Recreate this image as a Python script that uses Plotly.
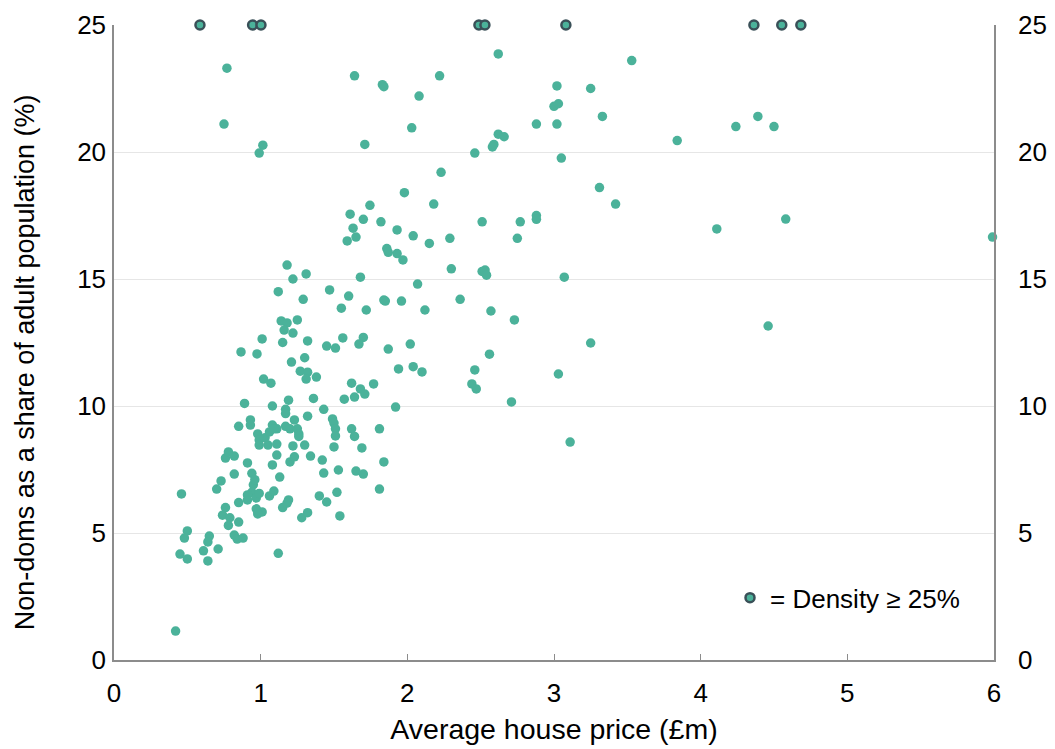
import plotly.graph_objects as go

# Average house price (£m) and non-dom share (%) per area
price = [
    0.77, 0.75, 1.015, 0.99, 1.64, 1.83, 1.84, 2.08, 2.22, 2.03, 2.62, 3.53, 3.02, 3.25, 3.0, 3.03,
    2.88, 3.02, 3.33, 2.46, 2.62, 2.66, 2.59, 2.58, 3.05, 2.23, 1.71, 3.84, 4.24, 4.39, 4.5, 1.98,
    2.18, 3.31, 3.42, 1.745, 1.61, 1.70, 1.82, 1.93, 1.63, 1.65, 1.59, 2.04, 2.15, 2.29, 2.51, 2.77,
    2.88, 2.88, 2.75, 1.86, 1.87, 1.93, 1.97, 2.3, 2.51, 2.53, 2.54, 3.07, 4.11, 4.58, 5.99, 4.46,
    1.18, 1.22, 1.31, 1.68, 1.12, 1.29, 1.47, 1.60, 1.55, 1.72, 1.84, 1.14, 1.18, 1.25, 1.16, 1.22,
    1.01, 1.32, 1.15, 0.866, 0.975, 1.45, 1.51, 1.56, 1.70, 1.67, 1.87, 1.94, 1.92, 1.21, 1.30, 1.27,
    1.32, 1.31, 1.38, 1.02, 1.07, 1.62, 1.77, 1.68, 1.71, 1.57, 1.64, 1.36, 0.89, 1.08, 1.19, 1.43,
    1.17, 1.17, 1.32, 1.49, 1.50, 1.62, 1.64, 1.81, 0.93, 0.93, 0.85, 1.23, 1.08, 1.11, 1.17, 1.2,
    1.25, 1.26, 1.26, 1.51, 1.51, 1.50, 0.98, 0.99, 0.99, 1.03, 1.06, 1.09, 1.11, 1.05, 1.22, 1.30,
    1.69, 1.11, 1.08, 1.2, 1.23, 1.34, 1.42, 1.84, 0.76, 0.78, 0.82, 0.91, 0.82, 0.94, 0.95, 0.96,
    0.94, 0.73, 0.70, 1.13, 1.43, 1.53, 1.65, 1.70, 1.81, 0.91, 0.91, 0.97, 0.99, 0.85, 1.06, 1.09,
    0.97, 1.01, 0.98, 1.15, 1.19, 1.18, 0.76, 0.74, 0.79, 0.78, 0.85, 1.28, 1.32, 1.40, 1.45, 1.52,
    1.54, 0.82, 0.84, 0.88, 1.12, 0.65, 0.64, 0.61, 0.71, 0.64, 0.46, 0.42, 0.45, 0.50, 0.50, 0.48,
    2.07, 1.85, 1.96, 2.12, 2.36, 2.57, 2.73, 3.25, 2.02, 2.56, 2.04, 2.10, 2.46, 3.03, 2.44, 2.47,
    2.71, 3.11,
]
share = [
    23.3, 21.1, 20.27, 19.96, 23.0, 22.65, 22.57, 22.2, 23.0, 20.95, 23.86, 23.6, 22.6, 22.5, 21.8, 21.9,
    21.1, 21.1, 21.4, 19.96, 20.7, 20.6, 20.3, 20.2, 19.76, 19.2, 20.3, 20.45, 21.0, 21.4, 21.0, 18.4,
    17.95, 18.6, 17.95, 17.9, 17.55, 17.35, 17.25, 16.93, 17.0, 16.65, 16.5, 16.7, 16.4, 16.6, 17.25, 17.25,
    17.5, 17.35, 16.6, 16.2, 16.05, 16.0, 15.75, 15.4, 15.3, 15.35, 15.15, 15.07, 16.97, 17.36, 16.65, 13.15,
    15.55, 15.0, 15.2, 15.07, 14.5, 14.2, 14.57, 14.33, 13.85, 13.78, 14.17, 13.35, 13.27, 13.39, 12.99, 12.87,
    12.64, 12.56, 12.5, 12.13, 12.05, 12.36, 12.28, 12.68, 12.7, 12.44, 12.24, 11.46, 9.96, 11.73, 11.9, 11.37,
    11.33, 11.06, 11.14, 11.06, 10.9, 10.9, 10.87, 10.67, 10.47, 10.27, 10.35, 10.3, 10.1, 10.0, 10.23, 9.87,
    9.87, 9.7, 9.6, 9.49, 9.33, 9.1, 8.8, 9.1, 9.45, 9.25, 9.2, 9.45, 9.25, 9.1, 9.2, 9.1,
    9.1, 8.9, 8.8, 9.1, 8.82, 8.39, 8.9, 8.66, 8.46, 8.75, 8.98, 9.1, 8.5, 8.46, 8.43, 8.46,
    8.35, 8.07, 7.68, 7.8, 8.0, 8.03, 7.87, 7.8, 7.95, 8.19, 8.03, 7.76, 7.32, 7.35, 6.9, 7.1,
    6.6, 7.05, 6.73, 7.2, 7.36, 7.48, 7.44, 7.32, 6.73, 6.5, 6.3, 6.38, 6.56, 6.2, 6.46, 6.65,
    5.95, 5.83, 5.75, 6.0, 6.3, 6.18, 6.0, 5.7, 5.6, 5.3, 5.43, 5.6, 5.8, 6.46, 6.22, 6.6,
    5.67, 4.92, 4.76, 4.8, 4.2, 4.88, 4.65, 4.3, 4.37, 3.9, 6.54, 1.14, 4.17, 3.98, 5.08, 4.8,
    14.8, 14.13, 14.13, 13.78, 14.2, 13.74, 13.39, 12.48, 12.44, 12.04, 11.55, 11.34, 11.42, 11.26, 10.87, 10.67,
    10.16, 8.58,
]

# Areas with density >= 25% (shown capped at the top of the axis)
dense_price = [0.586, 0.945, 1.002, 2.488, 2.529, 3.081, 4.363, 4.553, 4.683]
dense_share = [25, 25, 25, 25, 25, 25, 25, 25, 25]

y_ticks = [0, 5, 10, 15, 20, 25]
x_ticks = [0, 1, 2, 3, 4, 5, 6]

TEAL = "#4bb29a"
FONT = "Liberation Sans, Arial, sans-serif"

fig = go.Figure()
fig.add_trace(go.Scatter(
    x=price, y=share, mode="markers", showlegend=False,
    marker=dict(color=TEAL, size=9.5, line=dict(width=0)),
    cliponaxis=False,
))
fig.add_trace(go.Scatter(
    x=dense_price, y=dense_share, mode="markers", name="= Density \u2265 25%",
    marker=dict(color=TEAL, size=9, line=dict(width=2.5, color="#3a5058")),
    cliponaxis=False,
))
# empty trace on right axis to show right tick labels
fig.add_trace(go.Scatter(x=[None], y=[None], yaxis="y2", showlegend=False))

fig.update_layout(
    width=1055, height=749,
    margin=dict(l=114, r=61, t=25, b=89, autoexpand=False),
    paper_bgcolor="white", plot_bgcolor="white",
    font=dict(family=FONT, size=26, color="#000000"),
    xaxis=dict(
        range=[0, 6], tickvals=x_ticks, showgrid=False, zeroline=False, automargin=False,
        showline=True, linecolor="#8c8c8c", linewidth=1.5,
        ticks="inside", ticklen=6, tickcolor="#8c8c8c",
        tickfont=dict(size=26), ticklabelstandoff=9,
        title=dict(text="Average house price (£m)", font=dict(size=28.5), standoff=12),
    ),
    yaxis=dict(
        range=[0, 25], tickvals=y_ticks, showgrid=True, gridcolor="#e6e6e6", gridwidth=1,
        zeroline=False, showline=True, linecolor="#8c8c8c", linewidth=1.5, automargin=False,
        tickfont=dict(size=26), ticklabelstandoff=1,
    ),
    yaxis2=dict(
        range=[0, 25], tickvals=y_ticks, overlaying="y", side="right", automargin=False,
        showgrid=False, zeroline=False, showline=True, linecolor="#8c8c8c", linewidth=1.5,
        tickfont=dict(size=26), ticklabelstandoff=17,
    ),
    legend=dict(
        x=0.70, y=0.098, xanchor="left", yanchor="middle",
        font=dict(size=26, family=FONT), bgcolor="rgba(0,0,0,0)",
        itemwidth=30,
    ),
    annotations=[dict(
        text="Non-doms as a share of adult population (%)",
        xref="paper", yref="paper", x=-0.101, y=0.469,
        xanchor="center", yanchor="middle", textangle=-90, showarrow=False,
        font=dict(size=27, family=FONT, color="#000000"),
    )],
)

fig.write_html(
    "out.html",
    config={"displayModeBar": False},
    post_script="document.body.style.margin='0px';document.body.style.overflow='hidden';",
)
